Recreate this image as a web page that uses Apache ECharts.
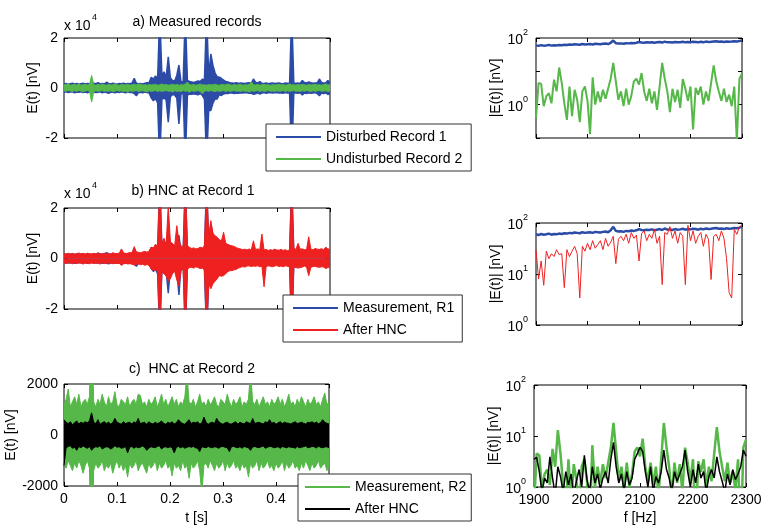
<!DOCTYPE html>
<html>
<head>
<meta charset="utf-8">
<script src="https://cdn.jsdelivr.net/npm/echarts@6/dist/echarts.min.js"></script>
<style>
html, body { margin: 0; padding: 0; background: #fff; }
#main { width: 776px; height: 526px; }
</style>
</head>
<body>
<div id="main"></div>
<script>
// sample spacing of the records (s) and of the spectra (Hz)
var sampleStep = 0.004;
var freqStart = 1900, freqStep = 5;

// time records in nV, upper and lower edge of the noise band
// disturbed record 1 / measurement R1
var rec1Hi = [1600,1800,1500,1700,1900,1600,1800,1500,1700,1900,
	1600,1800,1700,1500,1900,1700,2100,1600,1800,1700,
	2300,1800,1600,1900,1700,1500,1800,1700,1900,1600,
	1800,1700,2000,3900,1900,1700,1800,1600,1900,2100,
	2200,4300,3500,4800,3600,30000,5000,6500,4200,12500,
	4000,3000,2800,5000,9200,2400,2600,30000,3000,2600,
	2400,2200,2500,2800,2600,3500,3200,30000,5000,13600,
	9000,6000,4500,4300,3800,3200,2600,2400,2100,2000,
	1900,2100,1800,2000,1900,1800,2000,2100,1900,3600,
	2300,2000,2600,1900,1800,2000,1700,1900,2000,1800,
	1900,2000,1800,1700,2000,1900,1800,30000,2000,1900,
	2000,1800,3000,2200,2000,2400,2100,1900,2000,2100,
	3600,2200,2000,2100,3000,2300];
var rec1Lo = [-1700,-1500,-1800,-1600,-1500,-1900,-1600,-1700,-1500,-1800,
	-1600,-1900,-1500,-1700,-1600,-1800,-1700,-1500,-1900,-1600,
	-1800,-2100,-1600,-1700,-1900,-1600,-1800,-1500,-1700,-1900,
	-1600,-1800,-1700,-2200,-3100,-1800,-1700,-1900,-1600,-1800,
	-2000,-4000,-5100,-4200,-6000,-30000,-4500,-4000,-4800,-13700,
	-3500,-2600,-2800,-4000,-14400,-2400,-2200,-30000,-2800,-2400,
	-2500,-2300,-2500,-2700,-2200,-3000,-4500,-30000,-9000,-9000,
	-6000,-4400,-4400,-2600,-3000,-2400,-2100,-2200,-1900,-2000,
	-2200,-2000,-2100,-1900,-2000,-1800,-1900,-2100,-2000,-2500,
	-2300,-1900,-2400,-2000,-1800,-2100,-1900,-1800,-2000,-1900,
	-1800,-2000,-1900,-2100,-1800,-2000,-1900,-30000,-1900,-2000,
	-2100,-1900,-2800,-2000,-2200,-1900,-2100,-2000,-1800,-2200,
	-3100,-2000,-2200,-1900,-2600,-2100];
// undisturbed record 2 / measurement R2
var rec2Hi = [1200,1400,1800,1100,1300,1500,1200,1600,1100,1300,
	1400,1200,1500,5000,1300,1100,1400,1200,1600,1300,
	1100,1500,1200,1300,1700,1200,1100,1400,1300,1200,
	1500,1100,1300,1400,1200,1600,1550,1200,1300,1100,
	1400,1200,1300,1500,1100,1300,1600,1200,1400,1100,
	1300,1500,1200,1400,1100,1300,1200,1500,2400,1300,
	1200,1400,1100,1300,1600,1200,1300,1100,1400,1200,
	1300,1500,1200,1100,1400,1300,1200,1600,1300,1100,
	1400,1200,1300,1500,1100,1300,1200,1400,2500,1300,
	1200,1400,1100,1300,1500,1200,1300,1100,1400,1200,
	1300,1500,1200,1400,1100,1300,1600,1200,1300,1100,
	1400,1200,1500,1300,1100,1400,1200,1300,1500,1200,
	1300,1100,1400,1650,1200,1300];
var rec2Lo = [-1100,-1300,-1000,-1200,-1400,-1100,-1300,-1000,-1200,-1500,
	-1200,-1000,-1300,-5600,-1400,-1100,-1300,-1200,-1000,-1400,
	-1200,-1300,-1100,-1500,-1200,-1000,-1300,-1100,-1400,-1200,
	-1650,-1100,-1300,-1200,-1000,-1400,-1200,-1100,-1300,-1500,
	-1100,-1300,-1200,-1000,-1400,-1100,-1300,-1200,-1000,-1300,
	-1200,-1600,-1100,-1300,-1200,-1400,-1000,-1300,-1200,-1700,
	-1100,-1300,-1200,-1000,-1400,-2300,-1200,-1100,-1300,-1000,
	-1200,-1400,-1100,-1300,-1200,-1000,-1400,-1100,-1300,-1200,
	-1000,-1300,-1200,-1400,-1100,-1300,-1200,-1650,-1100,-1300,
	-1200,-1000,-1400,-1100,-1300,-1200,-1000,-1300,-1200,-1400,
	-1100,-1300,-1200,-1000,-1400,-1100,-1300,-1200,-1000,-1300,
	-1200,-1400,-1100,-1300,-1000,-1200,-1400,-1100,-1300,-1200,
	-1000,-1300,-1200,-1100,-1400,-1200];
// record 1 after HNC
var hnc1Hi = [1900,1700,2100,1800,2000,1700,1900,2200,1800,2000,
	1700,2100,1900,1800,2000,1700,2200,1900,1800,2100,
	1900,2000,1800,2300,1900,2000,2100,3800,2200,2000,
	2100,2400,2200,4700,2600,2500,2300,2600,2800,2500,
	3000,4500,4200,5700,4800,30000,6000,8000,5500,21000,
	6500,6000,5000,13000,7000,5000,4500,30000,5000,4400,
	4000,4200,3800,4000,4500,4200,5000,30000,9000,15000,
	10000,9000,8400,7500,7000,10400,6000,5600,5200,5000,
	4800,4300,4000,3800,3500,3700,3400,3800,3300,7000,
	3600,3800,3500,9700,3400,3600,3200,3500,3300,3700,
	3400,3300,3600,3200,3500,3100,3400,30000,4200,3600,
	6000,3700,3800,3500,3600,8600,3800,3400,4000,3700,
	3600,3900,3500,4500,3800,3700];
var hnc1Lo = [-1800,-2000,-1700,-1900,-2100,-1800,-2000,-1700,-1900,-2200,
	-1800,-1900,-2100,-1700,-2000,-1800,-1900,-2200,-1700,-2000,
	-2000,-1800,-1900,-2100,-1800,-2000,-1900,-2800,-2100,-1900,
	-2200,-2000,-2300,-2600,-2400,-2200,-2500,-2300,-2700,-2400,
	-2800,-4200,-4800,-4500,-5000,-30000,-5500,-6000,-7000,-9000,
	-8000,-6000,-5000,-8500,-11000,-5000,-4000,-30000,-4200,-3600,
	-3500,-3800,-3300,-3600,-4000,-3800,-4500,-30000,-10000,-12000,
	-10000,-9000,-8000,-6800,-7000,-6800,-6000,-5200,-4800,-4800,
	-4500,-4300,-3800,-3500,-3200,-3400,-3000,-2900,-3200,-3000,
	-3100,-2900,-3300,-3000,-11200,-3200,-2900,-3100,-3300,-3000,
	-2800,-3200,-3000,-3300,-2900,-3100,-3300,-30000,-3400,-3600,
	-3800,-3600,-3400,-3000,-3500,-6800,-3500,-3200,-3100,-3400,
	-3500,-3300,-3400,-4000,-3600,-3300];
// record 2 after HNC
var hnc2Hi = [600,500,450,520,400,480,550,430,500,460,
	520,480,550,870,500,450,600,420,480,520,
	450,500,430,480,650,500,460,420,520,450,
	480,500,430,520,460,650,440,480,500,420,
	520,460,430,500,450,480,550,460,420,500,
	460,520,430,480,600,500,450,420,520,600,
	450,500,480,520,430,460,700,500,420,480,
	500,450,650,520,460,420,480,500,440,430,
	480,520,420,500,460,430,520,480,450,650,
	450,480,500,460,430,520,480,600,460,500,
	420,480,520,450,500,470,460,430,480,520,
	450,470,500,460,430,500,480,520,460,510,
	440,480,600,500,460,430];
var hnc2Lo = [-1200,-500,-450,-420,-520,-480,-600,-450,-500,-430,
	-480,-520,-450,-600,-500,-460,-480,-420,-550,-500,
	-460,-480,-550,-500,-420,-480,-460,-520,-500,-450,
	-700,-480,-450,-520,-460,-500,-480,-430,-480,-600,
	-520,-460,-480,-500,-450,-420,-550,-480,-460,-500,
	-460,-500,-700,-480,-450,-500,-460,-520,-480,-450,
	-480,-450,-500,-520,-650,-460,-480,-500,-450,-480,
	-500,-460,-480,-520,-460,-450,-480,-500,-650,-460,
	-450,-480,-500,-460,-520,-450,-480,-500,-600,-470,
	-450,-480,-500,-460,-430,-520,-480,-450,-460,-500,
	-480,-460,-520,-450,-480,-500,-460,-480,-480,-520,
	-450,-500,-480,-460,-430,-500,-480,-450,-460,-510,
	-440,-480,-500,-470,-460,-500];

// amplitude spectra |E(f)| in nV, 1900..2300 Hz
var spec1 = [60,58,61,59,60,62,59,61,60,62,
	61,63,62,64,63,65,64,63,66,64,
	65,66,64,67,66,65,67,68,66,72,
	84,70,68,69,67,70,69,71,70,72,
	76,73,72,74,73,75,72,74,76,73,
	78,74,75,73,76,74,75,77,74,76,
	75,77,76,74,77,75,78,76,77,79,
	80,77,78,76,79,77,78,80,79,81,
	84];
var spec2 = [0.4,4.5,4.2,0.9,1.8,2.2,1.1,5.6,2.5,13,
	4.5,1.1,0.35,3.5,0.45,2.8,1.4,0.3,2.5,3.5,
	1.3,0.13,6.6,1,2.5,1.2,2.8,1.5,3,6,
	18,5,1.4,2.5,0.9,3,1,1.8,5,6,
	4,8.9,2.5,1.3,3,1.1,2.5,0.7,3.5,18,
	6,2.5,0.6,3,1.2,2.8,0.8,5.9,3,1.3,
	3.5,0.18,3.2,2,3.5,1,2.5,1.3,4.5,15,
	5,2.5,1.3,3,1.2,2,0.9,3.5,0.08,6,
	8.5];
var specHnc1 = [30,8,18,6,28,20,25,22,30,24,
	25,5.4,30,22,28,35,25,3.4,35,28,
	40,30,45,32,38,45,30,50,35,42,
	55,16,48,55,45,60,40,65,50,58,
	18,62,70,45,60,50,75,40,55,6.2,
	65,60,85,50,70,40,65,55,6.2,90,
	45,70,40,55,65,35,60,48,7.8,55,
	60,45,70,50,20,4.3,3.4,75,60,85,
	90];
var specHnc2 = [3.5,3.8,2,0.8,1.5,1.2,3.9,1.5,0.7,2.5,
	1.6,0.8,2,1.1,1.8,0.7,1.3,2.2,1,4.2,
	1.4,0.8,2.5,1.2,1.8,0.9,1.5,2,1.2,3.5,
	7.5,2.5,1.2,1.8,0.8,2,1.1,1.5,3.5,4.5,
	6,5,2,1,2.5,0.8,1.6,1.2,2,5.3,
	2.2,1.5,0.8,2,1.3,1.8,2.5,5.3,2,1,
	2.2,1.2,2.8,1.5,2,0.8,1.6,2.2,1.5,3.9,
	2,1.3,0.8,1.8,1.1,2.2,1.4,1.8,2.5,5.3,
	4];

var timeS = rec1Hi.map(function (v, i) { return +(i * sampleStep).toFixed(3); });
var freqHz = spec1.map(function (v, k) { return freqStart + k * freqStep; });

function pairs(xs, ys) {
	return ys.map(function (v, i) { return [xs[i], v]; });
}

var BLUE = '#2B4BA6', GREEN = '#55B848', RED = '#EE2020', BLACK = '#000000';
var FONT = '"Liberation Sans", Arial, sans-serif';

var grids = [
	{left: 64, top: 38, width: 266, height: 100},
	{left: 536, top: 38, width: 206, height: 100},
	{left: 64, top: 208, width: 266, height: 101},
	{left: 536, top: 223, width: 206, height: 102},
	{left: 64, top: 384, width: 265, height: 102},
	{left: 534, top: 385, width: 212, height: 102}
];
grids.forEach(function (g) {
	g.show = true;
	g.borderColor = '#000';
	g.borderWidth = 1;
});

var supRich = {
	b: {fontSize: 14, color: '#000', padding: [5, 0, 0, 0]},
	s: {fontSize: 9, color: '#000', verticalAlign: 'top'}
};
function powLabel(v) {
	var e = Math.round(Math.log10(v));
	return '{b|10}{s|' + e + '}';
}
var plain = function (v) { return String(v); };

var tick = {inside: true, length: 4, lineStyle: {color: '#000'}};
var nameStyle = {fontSize: 14, color: '#000'};

var xAxes = [], yAxes = [];
function addX(gi, o) {
	[false, true].forEach(function (top) {
		xAxes.push({
			gridIndex: gi, type: 'value', position: top ? 'top' : 'bottom',
			min: o.min, max: o.max, interval: o.interval,
			axisLine: {show: false, onZero: false},
			axisTick: tick,
			axisLabel: {show: !top && !!o.labels, margin: 6, color: '#000', fontSize: 14, formatter: plain},
			splitLine: {show: false},
			name: top ? '' : (o.name || ''),
			nameLocation: 'middle', nameGap: o.nameGap || 25, nameTextStyle: nameStyle
		});
	});
}
function addY(gi, o) {
	[false, true].forEach(function (right) {
		yAxes.push({
			gridIndex: gi, type: o.type || 'value', position: right ? 'right' : 'left',
			min: o.min, max: o.max, interval: o.interval,
			axisLine: {show: false, onZero: false},
			axisTick: tick,
			axisLabel: {show: !right, margin: o.margin || 6, color: '#000', fontSize: 14,
				formatter: o.formatter || plain, rich: supRich},
			splitLine: {show: false},
			name: right ? '' : o.name,
			nameLocation: 'middle', nameGap: o.nameGap, nameTextStyle: nameStyle
		});
	});
}

var timeX = {min: 0, max: 0.5, interval: 0.1};
var freqX = {min: 1900, max: 2300, interval: 100};
addX(0, timeX);
addX(1, freqX);
addX(2, timeX);
addX(3, freqX);
addX(4, {min: 0, max: 0.5, interval: 0.1, labels: true, name: 't [s]', nameGap: 25});
addX(5, {min: 1900, max: 2300, interval: 100, labels: true, name: 'f [Hz]', nameGap: 24});

var e4 = function (v) { return String(v / 10000); };
addY(0, {min: -20000, max: 20000, interval: 20000, formatter: e4, name: 'E(t) [nV]', nameGap: 24});
addY(1, {type: 'log', min: 0.1, max: 100, name: '|E(t)| [nV]', nameGap: 33, margin: 8,
	formatter: function (v) {
		var e = Math.round(Math.log10(v));
		return (e === 0 || e === 2) ? powLabel(v) : '';
	}});
addY(2, {min: -20000, max: 20000, interval: 20000, formatter: e4, name: 'E(t) [nV]', nameGap: 24});
addY(3, {type: 'log', min: 1, max: 100, name: '|E(t)| [nV]', nameGap: 33, margin: 8, formatter: powLabel});
addY(4, {min: -2000, max: 2000, interval: 2000, name: 'E(t) [nV]', nameGap: 24});
addY(5, {type: 'log', min: 1, max: 100, name: '|E(t)| [nV]', nameGap: 33, margin: 8, formatter: powLabel});

function line(name, gi, xs, ys, color, width, z) {
	return {
		name: name, type: 'line', xAxisIndex: gi * 2, yAxisIndex: gi * 2,
		data: pairs(xs, ys), symbol: 'none', showSymbol: false, silent: true,
		color: color, itemStyle: {color: color}, z: z || 2,
		lineStyle: {color: color, width: width}
	};
}
// noise band: upper edge and lower edge, each filled to zero
function band(name, gi, hi, lo, color, width, z) {
	var a = line(name, gi, timeS, hi, color, width, z);
	var b = line(name, gi, timeS, lo, color, width, z);
	a.areaStyle = b.areaStyle = {color: color, opacity: 1};
	return [a, b];
}

var series = [].concat(
	band('Disturbed Record 1', 0, rec1Hi, rec1Lo, BLUE, 1.5, 2),
	band('Undisturbed Record 2', 0, rec2Hi, rec2Lo, GREEN, 1, 3),
	[line('Disturbed Record 1', 1, freqHz, spec1, BLUE, 2.5),
	 line('Undisturbed Record 2', 1, freqHz, spec2, GREEN, 2)],
	band('Measurement, R1', 2, rec1Hi, rec1Lo, BLUE, 1.5, 2),
	band('After HNC', 2, hnc1Hi, hnc1Lo, RED, 1, 3),
	[line('Measurement, R1', 3, freqHz, spec1, BLUE, 2.5),
	 line('After HNC', 3, freqHz, specHnc1, RED, 1)],
	band('Measurement, R2', 4, rec2Hi, rec2Lo, GREEN, 1, 2),
	band('After HNC ', 4, hnc2Hi, hnc2Lo, BLACK, 1, 3),
	[line('Measurement, R2', 5, freqHz, spec2, GREEN, 2.5),
	 line('After HNC ', 5, freqHz, specHnc2, BLACK, 1.5)]
);

function legendBox(names, left, top, padding) {
	return {
		data: names, left: left, top: top, orient: 'vertical',
		padding: padding, itemGap: 8, itemWidth: 45, itemHeight: 14,
		backgroundColor: '#fff', borderColor: '#333', borderWidth: 1, borderRadius: 0,
		itemStyle: {opacity: 0}, z: 10,
		textStyle: {fontSize: 14, color: '#000'}, selectedMode: false
	};
}

function label(text, x, y, size, align) {
	return {
		type: 'text', x: x, y: y, silent: true,
		style: {text: text, fill: '#000', font: size + 'px ' + FONT,
			textAlign: align || 'center', align: align || 'center',
			textVerticalAlign: 'middle', verticalAlign: 'middle'}
	};
}

var myChart = echarts.init(document.getElementById('main'));
myChart.setOption({
	animation: false,
	textStyle: {fontFamily: FONT},
	grid: grids,
	xAxis: xAxes,
	yAxis: yAxes,
	series: series,
	legend: [
		legendBox(['Disturbed Record 1', 'Undisturbed Record 2'], 266, 124, [6, 9, 5, 9]),
		legendBox(['Measurement, R1', 'After HNC'], 283, 295, [6, 8, 5, 9]),
		legendBox(['Measurement, R2', 'After HNC '], 298, 474, [6, 5, 5, 6])
	],
	graphic: [
		label('a) Measured records', 197, 22, 14),
		label('x 10', 64, 26, 14, 'left'),
		label('4', 92, 18, 9, 'left'),
		label('b) HNC at Record 1', 193, 191, 14),
		label('x 10', 64, 194, 14, 'left'),
		label('4', 92, 186, 9, 'left'),
		label('c)  HNC at Record 2', 192, 369, 14)
	]
});
</script>
</body>
</html>
